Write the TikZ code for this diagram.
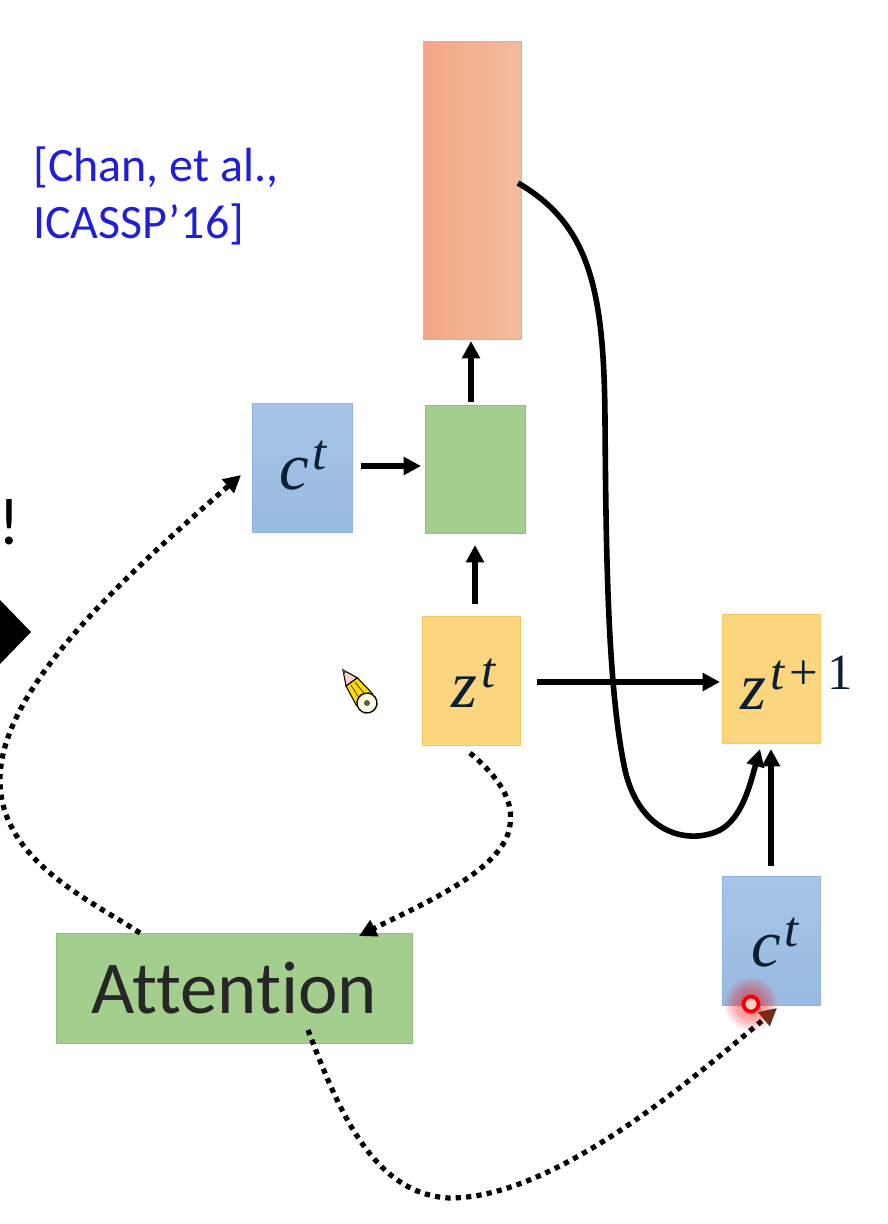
\documentclass[tikz,border=0pt]{standalone}
\usepackage{fontspec}
\setmainfont[Ligatures=NoCommon]{Carlito}
\newfontfamily\mathletters{Liberation Serif}
\usetikzlibrary{arrows.meta}
\definecolor{bluebox}{HTML}{9DBFE6}
\definecolor{blueedge}{HTML}{8FB3DE}
\definecolor{greenbox}{HTML}{A3CE8D}
\definecolor{greenedge}{HTML}{8FBF78}
\definecolor{yellowbox}{HTML}{FBD67E}
\definecolor{yellowedge}{HTML}{F5C75E}
\definecolor{orangeL}{HTML}{F3A682}
\definecolor{orangeR}{HTML}{F3BC9F}
\definecolor{inkblue}{HTML}{1F1FD8}
\definecolor{mathink}{HTML}{0C1E30}
\newcommand{\bigvar}[2]{{\mathletters\itshape\fontsize{50}{56}\selectfont #1\hspace{3pt}\raisebox{15pt}{\fontsize{38}{44}\selectfont #2}}}
\tikzset{
  x=0.75pt,y=-0.75pt,
  boxbase/.style={anchor=north west,inner sep=0pt,outer sep=0pt,line width=0.6pt,text=mathink},
  bluecell/.style={boxbase,draw=blueedge,top color=bluebox!92!white,bottom color=bluebox!98!black},
  greencell/.style={boxbase,draw=greenedge,fill=greenbox},
  yellowcell/.style={boxbase,draw=yellowedge,fill=yellowbox},
  orangecell/.style={boxbase,draw=orangeL,left color=orangeL,right color=orangeR},
  solidarrow/.style={line width=4.2pt,-{Triangle[length=13pt,width=13pt]},black},
  dotarrow/.style={line width=3.9pt,dash pattern=on 3.9pt off 3.9pt,-{Triangle[length=13pt,width=13pt]},black},
  varlabel/.style={inner sep=0pt,text=mathink},
}
\begin{document}
\begin{tikzpicture}
\useasboundingbox (0,0) rectangle (888,1224);
\fill[white] (0,0) rectangle (888,1224);
% clipped marks at the left edge
\fill[black] (0,600) -- (31,632) -- (0,664) -- cycle;
\node[anchor=center,inner sep=0pt,font=\fontsize{50}{56}\selectfont] (bang) at (9,522) {!};
% boxes
\node[orangecell,minimum width=73.5pt,minimum height=224pt] (out) at (423,41) {};
\node[greencell,minimum width=75pt,minimum height=96pt] (mix) at (425,405) {};
\node[bluecell,minimum width=75pt,minimum height=97pt] (c1) at (252,403) {};
\node[yellowcell,minimum width=74pt,minimum height=97pt] (z1) at (422,616) {};
\node[yellowcell,minimum width=74pt,minimum height=97pt] (z2) at (722,614) {};
\node[bluecell,minimum width=74pt,minimum height=97pt] (c2) at (722,876) {};
\node[greencell,minimum width=267pt,minimum height=83pt,font=\fontsize{56}{60}\selectfont,text=black!85] (att) at (56,933) {Attention};
% box labels
\node[varlabel] (c1t) at (303,466) {\bigvar{c}{t}};
\node[varlabel] (z1t) at (474,683) {\bigvar{z}{t}};
\node[varlabel,anchor=west] (z2t) at (740,683) {\bigvar{z}{t\hspace{4pt}\upshape+\hspace{7pt}1}};
\node[varlabel] (c2t) at (775,943) {\bigvar{c}{t}};
% citation
\node[anchor=west,inner sep=0pt,text=inkblue,font=\fontsize{36}{42}\selectfont] (cit1) at (33,167) {[Chan, et al.,};
\node[anchor=west,inner sep=0pt,text=inkblue,font=\fontsize{36}{42}\selectfont] (cit2) at (33,224) {ICASSP’16]};
% free connector ends
\coordinate (a1s) at (361,466); \coordinate (a1e) at (421,466);
\coordinate (a2s) at (471,402); \coordinate (a2e) at (471,341);
\coordinate (a3s) at (475,604); \coordinate (a3e) at (475,545);
\coordinate (a4s) at (537,682); \coordinate (a4e) at (720,682);
\coordinate (a5s) at (771,866); \coordinate (a5e) at (771,749);
\coordinate (a6s) at (518,183); \coordinate (a6e) at (760,749);
\coordinate (d1s) at (470,753); \coordinate (d1e) at (359,936);
\coordinate (d2s) at (140,933); \coordinate (d2e) at (241,475);
\coordinate (d3s) at (308,1030); \coordinate (d3e) at (777,1008);
% solid connectors
\draw[solidarrow] (a2s) -- (a2e);
\draw[solidarrow] (a1s) -- (a1e);
\draw[solidarrow] (a3s) -- (a3e);
\draw[solidarrow] (a4s) -- (a4e);
\draw[solidarrow] (a5s) -- (a5e);
\draw[solidarrow] (a6s) .. controls (590,225) and (604,290) .. (605,420)
  .. controls (606,560) and (608,690) .. (625,770)
  .. controls (640,835) and (690,845) .. (720,830)
  .. controls (742,818) and (750,785) .. (a6e);
% dotted connectors
\draw[dotarrow] (d1s) .. controls (490,770) and (515,795) .. (510,825)
  .. controls (505,870) and (420,905) .. (d1e);
\draw[dotarrow] (d2s) .. controls (90,900) and (0,860) .. (0,780)
  .. controls (0,690) and (120,580) .. (d2e);
\draw[dotarrow,-{Triangle[length=13pt,width=13pt,color=black!55!brown]}] (d3s) .. controls (335,1100) and (370,1195) .. (450,1198)
  .. controls (550,1198) and (680,1090) .. (d3e);
% red laser pointer
\foreach \r in {26,23,...,8} {\fill[red,opacity=0.09] (751,1004) circle (\r);}
\draw[line width=2.8pt,draw=red!95!black,fill=red!20!white] (751,1004) circle (7.5);
% pencil cursor
\begin{scope}[shift={(367,703)},rotate=-54]
  \draw[line width=0.8pt,fill=pink!75!white] (-41,0) -- (-26,-7) -- (-26,7) -- cycle;
  \fill[black!70] (-41,0) -- (-37,-2) -- (-37,2) -- cycle;
  \draw[line width=0.8pt,fill=yellow!80!orange] (-26,-7) -- (-4,-10) -- (-4,10) -- (-26,7) -- cycle;
  \draw[line width=0.6pt,draw=black!60!orange] (-24,-2.5) -- (-6,-3.5) (-24,2.5) -- (-6,3.5);
  \draw[line width=1pt,fill=yellow!12!white] (0,0) circle (10);
  \fill[black!65] (0,0) circle (3);
\end{scope}
\end{tikzpicture}
\end{document}
